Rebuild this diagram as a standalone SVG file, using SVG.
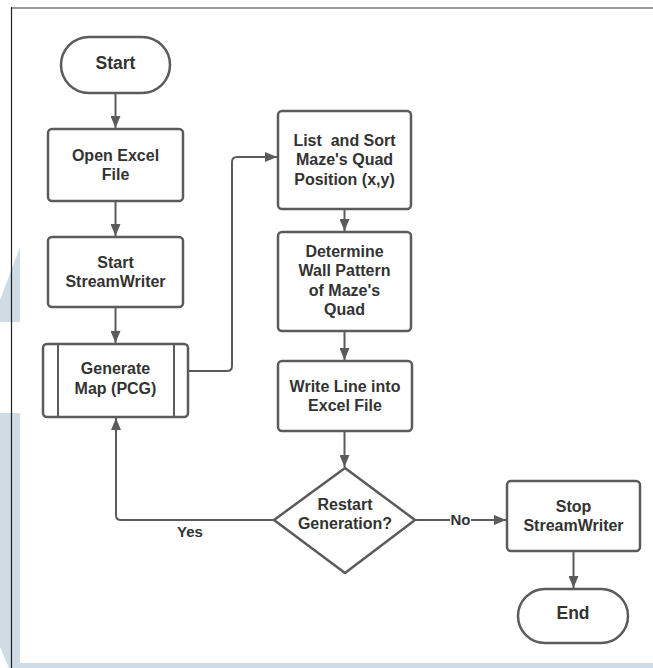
<svg xmlns="http://www.w3.org/2000/svg" width="653" height="668" viewBox="0 0 653 668">
<style>
.box{fill:#ffffff;stroke:#5b5b5b;stroke-width:2.5;stroke-linejoin:round}
.ln{fill:none;stroke:#5b5b5b;stroke-width:2}
.t{font-family:"Liberation Sans",Arial,sans-serif;font-weight:bold;font-size:16px;fill:#333333;text-anchor:middle}
.tt{font-size:17.5px}
.lbl{font-size:15px}
.wm{fill:#cfdbe5}
</style>
<defs>
<marker id="arr" viewBox="0 0 12 10" refX="12" refY="5" markerWidth="12" markerHeight="10" markerUnits="userSpaceOnUse" orient="auto">
<path d="M0,0 L12,5 L0,10 z" fill="#5b5b5b"/>
</marker>
</defs>
<rect x="0" y="0" width="653" height="668" fill="#ffffff"/>
<g id="watermark">
<polygon class="wm" points="20,247 20,322 0,322 0,300"/>
<polygon class="wm" points="0,413 20,413 20,668 9,668 0,647"/>
<rect class="wm" x="20" y="663" width="633" height="5"/>
</g>
<g id="frame">
<line x1="11" y1="8" x2="653" y2="8" stroke="#777777" stroke-width="1.5"/>
<line x1="11.5" y1="7" x2="11.5" y2="668" stroke="#222222" stroke-width="1.2"/>
</g>
<g id="connectors">
<line class="ln" x1="115.5" y1="93" x2="115.5" y2="128" marker-end="url(#arr)"/>
<line class="ln" x1="115.5" y1="201" x2="115.5" y2="236" marker-end="url(#arr)"/>
<line class="ln" x1="115.5" y1="307" x2="115.5" y2="343" marker-end="url(#arr)"/>
<path class="ln" d="M188,371 H227 Q232,371 232,366 V162 Q232,157 237,157 H277" marker-end="url(#arr)"/>
<line class="ln" x1="344.5" y1="209" x2="344.5" y2="231" marker-end="url(#arr)"/>
<line class="ln" x1="344.5" y1="331" x2="344.5" y2="360" marker-end="url(#arr)"/>
<line class="ln" x1="344.5" y1="431" x2="344.5" y2="467" marker-end="url(#arr)"/>
<path class="ln" d="M274,520 H121 Q116,520 116,515 V418" marker-end="url(#arr)"/>
<path class="ln" d="M415,520 H506" marker-end="url(#arr)"/>
<line class="ln" x1="573.5" y1="551" x2="573.5" y2="588" marker-end="url(#arr)"/>
<rect x="450" y="512" width="21" height="15" fill="#ffffff"/>
<text class="t lbl" x="460.5" y="524.5">No</text>
<text class="t lbl" x="190" y="537">Yes</text>
</g>
<g id="start">
<rect class="box" x="61" y="37" width="109" height="56" rx="28"/>
<text class="t tt" x="115.5" y="69">Start</text>
</g>
<g id="open-excel">
<rect class="box" x="48" y="129" width="135" height="72" rx="4"/>
<text class="t" x="115.5" y="160.5">Open Excel</text>
<text class="t" x="115.5" y="180">File</text>
</g>
<g id="start-streamwriter">
<rect class="box" x="48" y="237" width="135" height="70" rx="4"/>
<text class="t" x="115.5" y="267.5">Start</text>
<text class="t" x="115.5" y="287">StreamWriter</text>
</g>
<g id="generate-map">
<rect class="box" x="43" y="344" width="145" height="73" rx="4"/>
<line class="ln" x1="58" y1="345" x2="58" y2="416" stroke-width="2.5"/>
<line class="ln" x1="174" y1="345" x2="174" y2="416" stroke-width="2.5"/>
<text class="t" x="115.5" y="374">Generate</text>
<text class="t" x="115.5" y="393.5">Map (PCG)</text>
</g>
<g id="list-sort">
<rect class="box" x="278" y="111" width="133" height="98" rx="4"/>
<text class="t" x="344.5" y="145.5" xml:space="preserve">List  and Sort</text>
<text class="t" x="344.5" y="165">Maze's Quad</text>
<text class="t" x="344.5" y="184.5">Position (x,y)</text>
</g>
<g id="determine">
<rect class="box" x="278" y="232" width="133" height="99" rx="4"/>
<text class="t" x="344.5" y="256.5">Determine</text>
<text class="t" x="344.5" y="276">Wall Pattern</text>
<text class="t" x="344.5" y="295.5">of Maze's</text>
<text class="t" x="344.5" y="315">Quad</text>
</g>
<g id="write-line">
<rect class="box" x="278" y="361" width="134" height="70" rx="4"/>
<text class="t" x="345" y="391.5">Write Line into</text>
<text class="t" x="345" y="411">Excel File</text>
</g>
<g id="restart">
<polygon class="box" points="345,468 415,520 345,573 274,520"/>
<text class="t" x="345" y="509.5">Restart</text>
<text class="t" x="345" y="528.5">Generation?</text>
</g>
<g id="stop-streamwriter">
<rect class="box" x="507" y="481" width="133" height="70" rx="4"/>
<text class="t" x="573.5" y="511.5">Stop</text>
<text class="t" x="573.5" y="530.5">StreamWriter</text>
</g>
<g id="end">
<rect class="box" x="518" y="589" width="110" height="54" rx="27"/>
<text class="t tt" x="573" y="619">End</text>
</g>
</svg>
